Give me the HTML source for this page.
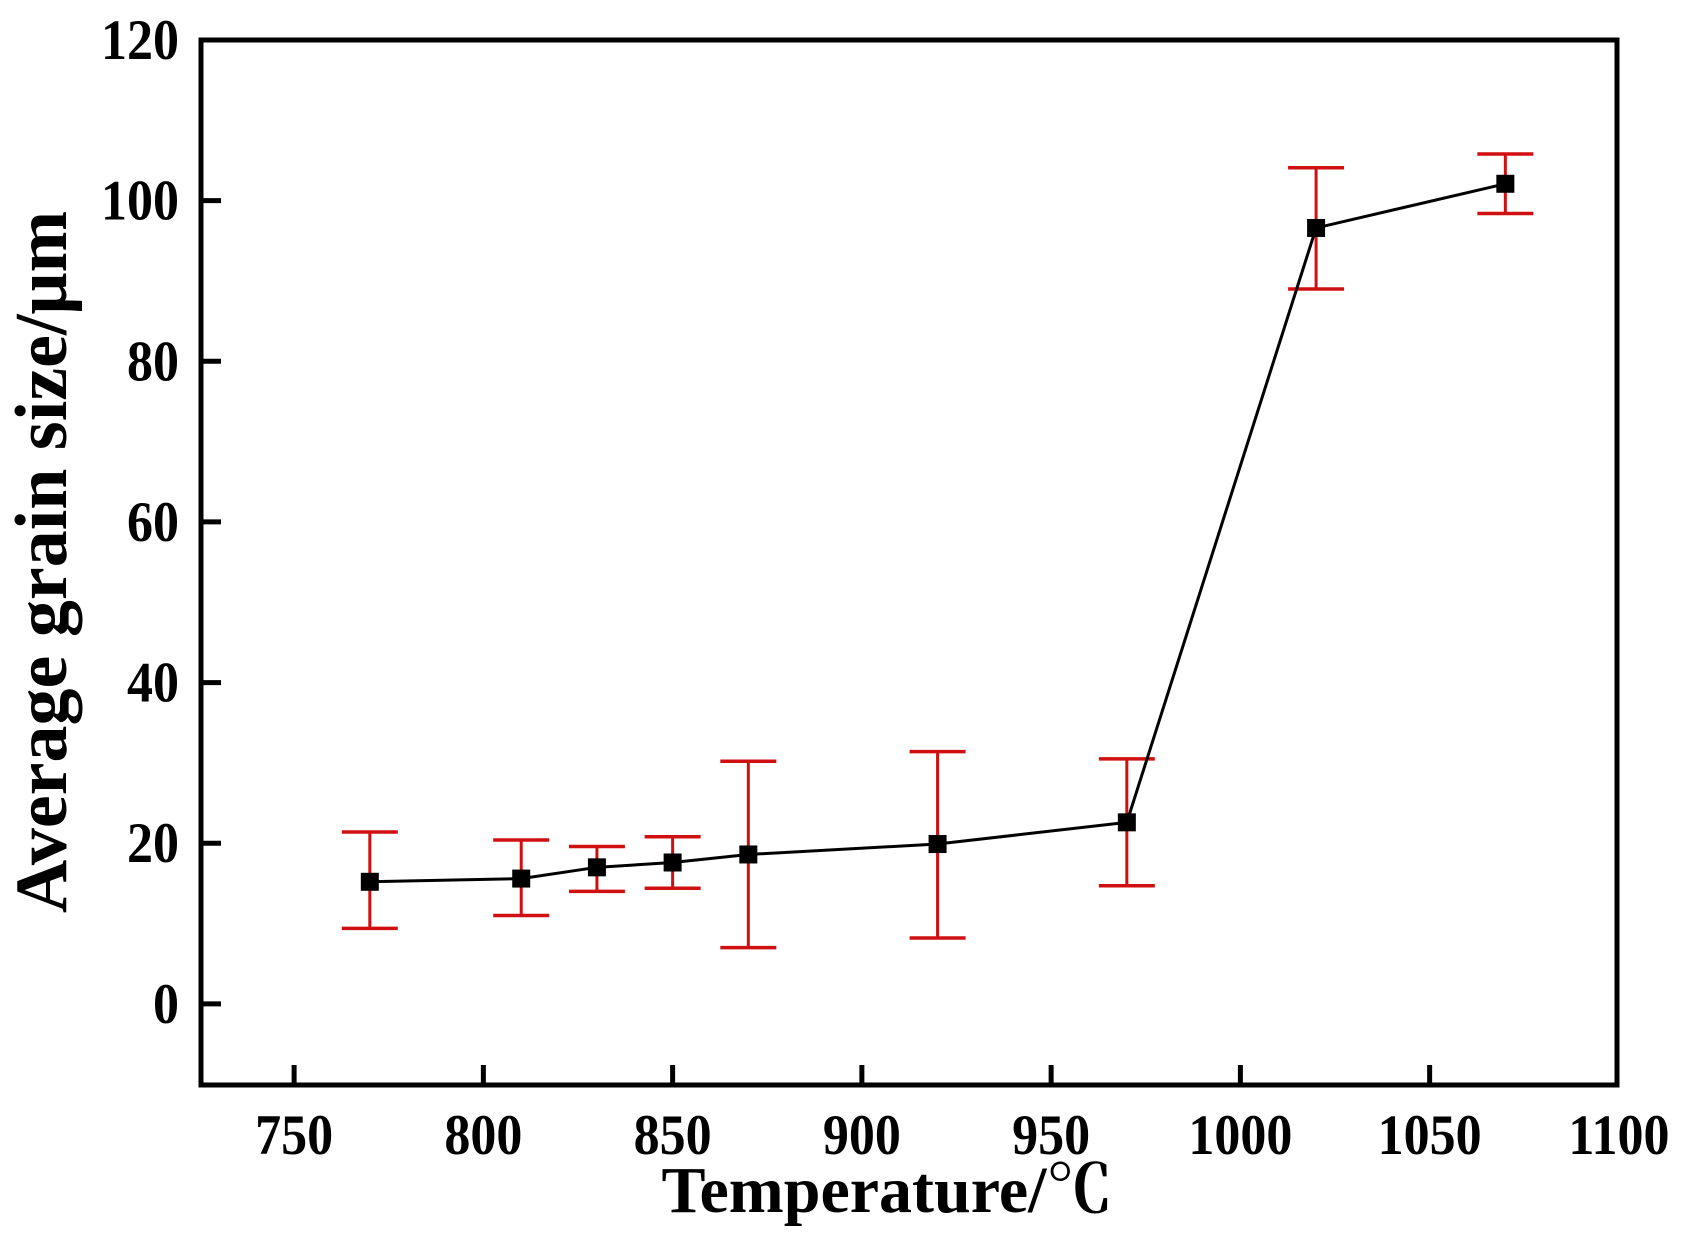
<!DOCTYPE html>
<html><head><meta charset="utf-8"><style>
html,body{margin:0;padding:0;background:#fff;}
svg{display:block;}
text{font-family:"Liberation Serif","Noto Serif CJK SC",serif;font-weight:bold;fill:#000;}
</style></head><body>
<svg id="chart" width="1682" height="1244" viewBox="0 0 1682 1244" xmlns="http://www.w3.org/2000/svg">
<g id="plot"></g>
</svg>
<script>
const temps = [770, 810, 830, 850, 870, 920, 970, 1020, 1070];
const sizes = [15.2, 15.6, 17.0, 17.6, 18.6, 19.9, 22.6, 96.6, 102.1];
const errHigh = [21.4, 20.4, 19.6, 20.8, 30.2, 31.4, 30.5, 104.1, 105.8];
const errLow = [9.4, 11.0, 14.0, 14.4, 7.0, 8.2, 14.7, 89.0, 98.4];
const xTicks = [750, 800, 850, 900, 950, 1000, 1050, 1100];
const yTicks = [0, 20, 40, 60, 80, 100, 120];

const L=201, R=1617, T=40, B=1085;
const xMin=725.4, xMax=1099.5, yMin=-10.1, yMax=120;
const sx=v=>L+(v-xMin)/(xMax-xMin)*(R-L);
const sy=v=>B-(v-yMin)/(yMax-yMin)*(B-T);
const NS="http://www.w3.org/2000/svg";
const g=document.getElementById('plot');
function mk(tag,attrs,parent){const e=document.createElementNS(NS,tag);for(const k in attrs)e.setAttribute(k,attrs[k]);(parent||g).appendChild(e);return e;}

temps.forEach((t,i)=>{
  const x=sx(t);
  const eg=mk('g',{});
  
  
  mk('line',{x1:x,x2:x,y1:sy(errHigh[i]),y2:sy(errLow[i]),stroke:'#d01010','stroke-width':3},eg);
  mk('line',{x1:x-28,x2:x+28,y1:sy(errHigh[i]),y2:sy(errHigh[i]),stroke:'#d01010','stroke-width':3.5},eg);
  mk('line',{x1:x-28,x2:x+28,y1:sy(errLow[i]),y2:sy(errLow[i]),stroke:'#d01010','stroke-width':3.5},eg);
});
const pl=mk('polyline',{points:temps.map((t,i)=>sx(t)+','+sy(sizes[i])).join(' '),fill:'none',stroke:'#000','stroke-width':3});


temps.forEach((t,i)=>{
  const r=mk('rect',{x:sx(t)-9,y:sy(sizes[i])-9,width:18,height:18,fill:'#000'});
  
  
});
const fr=mk('rect',{x:L,y:T,width:R-L,height:B-T,fill:'none',stroke:'#000','stroke-width':5});


xTicks.forEach(v=>{
  const x=sx(v);
  if(v<xMax){
    const tk=mk('line',{x1:x,x2:x,y1:B,y2:B-20,stroke:'#000','stroke-width':5});
    
    
  }
  const tx=mk('text',{x:x,y:1154,'text-anchor':'middle','font-size':52,transform:'translate(0,1154) scale(1,1.1) translate(0,-1154)'});
  tx.textContent=v;
  
  
});
yTicks.forEach(v=>{
  const y=sy(v);
  const tk=mk('line',{x1:L,x2:L+20,y1:y,y2:y,stroke:'#000','stroke-width':5});
  
  
  const tx=mk('text',{x:L-22,y:y+19,'text-anchor':'end','font-size':52,transform:`translate(0,${y+19}) scale(1,1.1) translate(0,${-(y+19)})`});
  tx.textContent=v;
  
  
});
const xt=mk('text',{x:(L+R)/2-22,y:1212,'text-anchor':'middle','font-size':66});
xt.textContent='Temperature/℃';


const yt=mk('text',{x:0,y:0,'text-anchor':'middle','font-size':74,transform:'translate(66,562) rotate(-90)'});
yt.textContent='Average grain size/μm';


</script>
</body></html>
